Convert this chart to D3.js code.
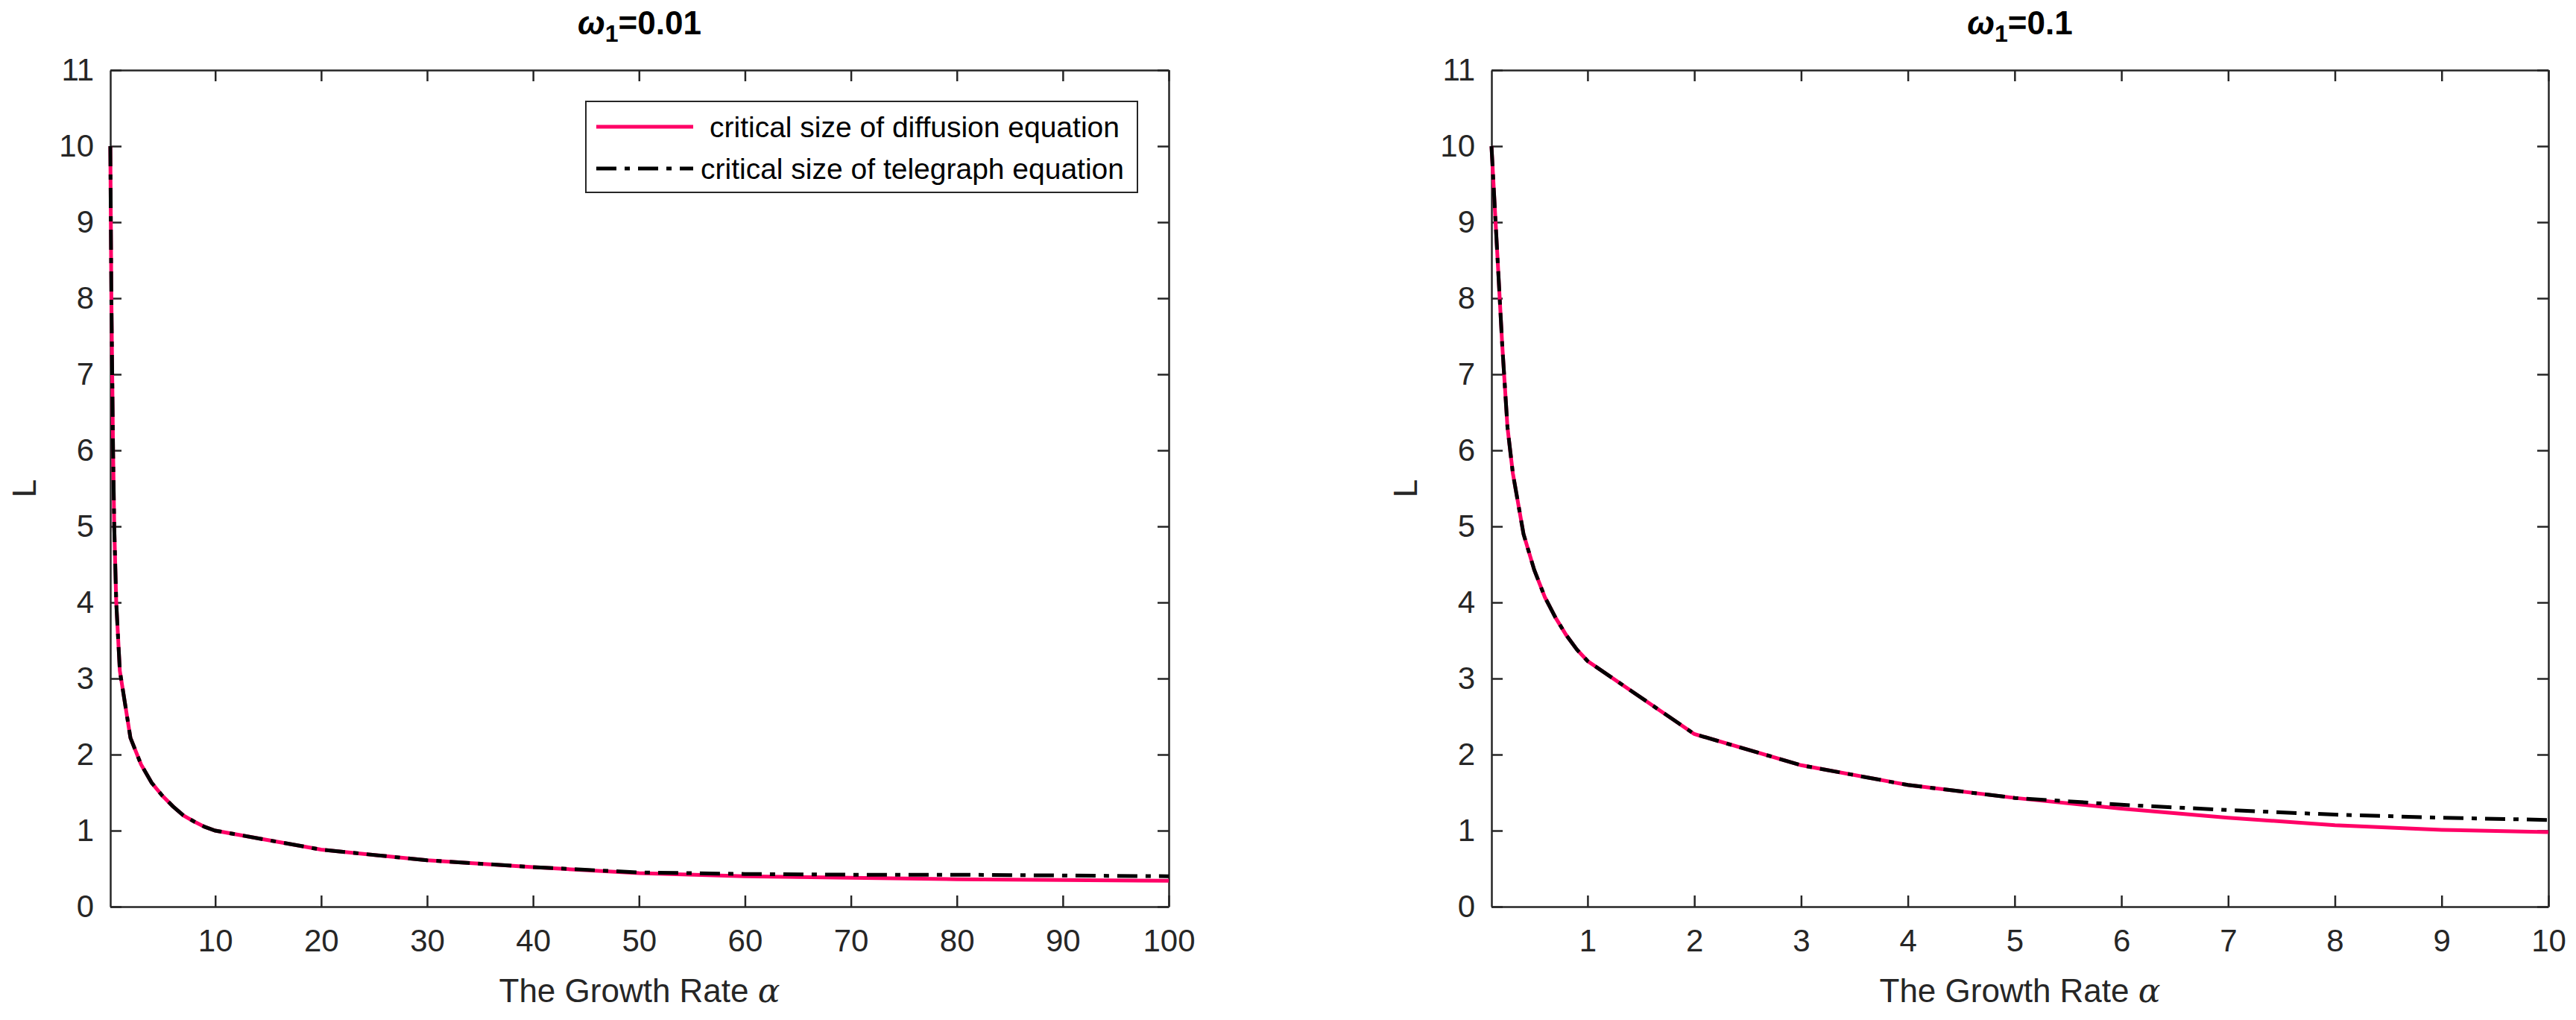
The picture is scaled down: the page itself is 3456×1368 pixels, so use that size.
<!DOCTYPE html>
<html>
<head>
<meta charset="utf-8">
<title>Critical size</title>
<style>
body { margin: 0; background: #fff; }
text { font-family: "Liberation Sans", Arial, sans-serif; fill: #262626; }
.axis path, .axis line { stroke: #262626; stroke-width: 2.5px; }
</style>
</head>
<body>
<script src="https://cdn.jsdelivr.net/npm/d3@7"></script>
<script>
// left panel, omega1 = 0.01
var alphaA = [0.1, 0.2, 0.36, 0.47, 0.66, 1, 2, 3, 4, 5, 6, 7, 8, 9, 10, 20, 30, 40, 50, 60, 70, 80, 90, 100];
var diffA  = [10, 8.0, 6.0, 5.0, 4.0, 3.1, 2.22, 1.87, 1.63, 1.46, 1.32, 1.2, 1.12, 1.05, 1.0, 0.75, 0.61, 0.52, 0.44, 0.4, 0.38, 0.36, 0.35, 0.34];
var telA   = [10, 8.0, 6.0, 5.0, 4.0, 3.1, 2.22, 1.87, 1.63, 1.46, 1.32, 1.2, 1.12, 1.05, 1.0, 0.75, 0.61, 0.52, 0.45, 0.43, 0.42, 0.42, 0.41, 0.40];
// right panel, omega1 = 0.1
var alphaB = [0.1, 0.15, 0.2, 0.25, 0.3, 0.4, 0.5, 0.6, 0.7, 0.8, 0.9, 1, 2, 3, 4, 5, 6, 7, 8, 9, 10];
var diffB  = [10, 8.7, 7.4, 6.3, 5.7, 4.9, 4.43, 4.07, 3.8, 3.57, 3.38, 3.23, 2.27, 1.86, 1.6, 1.43, 1.29, 1.17, 1.07, 1.01, 0.98];
var telB   = [10, 8.7, 7.4, 6.3, 5.7, 4.9, 4.43, 4.07, 3.8, 3.57, 3.38, 3.23, 2.27, 1.86, 1.6, 1.43, 1.34, 1.27, 1.21, 1.17, 1.14];
var ticksA = [10, 20, 30, 40, 50, 60, 70, 80, 90, 100];
var ticksB = [1, 2, 3, 4, 5, 6, 7, 8, 9, 10];
var ticksY = d3.range(0, 12);
var legendLabels = ["critical size of diffusion equation", "critical size of telegraph equation"];

var W = 3456, H = 1368, plotTop = 94, plotBottom = 1216;
var svg = d3.select("body").append("svg").attr("width", W).attr("height", H);

function panel(x0, x1, alphas, diff, tel, xticks, omega, legend) {
  var x = d3.scaleLinear().domain([alphas[0], alphas[alphas.length - 1]]).range([x0, x1]);
  var y = d3.scaleLinear().domain([0, 11]).range([plotBottom, plotTop]);
  var g = svg.append("g");

  g.append("g").attr("class", "axis").attr("transform", "translate(0," + plotBottom + ")")
    .call(d3.axisBottom(x).tickValues(xticks).tickSizeInner(-15).tickSizeOuter(0).tickPadding(30))
    .selectAll("text").style("font-size", "42px").attr("dy", "0.71em");
  g.append("g").attr("class", "axis").attr("transform", "translate(0," + plotTop + ")")
    .call(d3.axisTop(x).tickValues(xticks).tickSizeInner(-15).tickSizeOuter(0).tickFormat(""));
  g.append("g").attr("class", "axis").attr("transform", "translate(" + x0 + ",0)")
    .call(d3.axisLeft(y).tickValues(ticksY).tickSizeInner(-15).tickSizeOuter(0).tickPadding(22))
    .selectAll("text").style("font-size", "42px");
  g.append("g").attr("class", "axis").attr("transform", "translate(" + x1 + ",0)")
    .call(d3.axisRight(y).tickValues(ticksY).tickSizeInner(-15).tickSizeOuter(0).tickFormat(""));

  var line = d3.line().x(function(d) { return x(d[0]); }).y(function(d) { return y(d[1]); });
  g.append("path").datum(d3.zip(alphas, diff)).attr("d", line)
    .attr("fill", "none").attr("stroke", "#FF0066").attr("stroke-width", 5);
  g.append("path").datum(d3.zip(alphas, tel)).attr("d", line)
    .attr("fill", "none").attr("stroke", "#000").attr("stroke-width", 5)
    .attr("stroke-dasharray", "27,11,7,11");

  var cx = (x0 + x1) / 2;
  var t = g.append("text").attr("x", cx).attr("y", 46).attr("text-anchor", "middle")
    .style("font-size", "44px").style("font-weight", "bold").style("fill", "#000");
  t.append("tspan").text("ω").style("font-style", "italic");
  t.append("tspan").text("1").attr("dy", 10).style("font-size", "32px");
  t.append("tspan").text("=" + omega).attr("dy", -10);

  var xl = g.append("text").attr("x", cx).attr("y", 1344).attr("text-anchor", "middle").style("font-size", "44px");
  xl.append("tspan").text("The Growth Rate  ");
  xl.append("tspan").text("α").style("font-family", "DejaVu Serif").style("font-style", "italic");

  g.append("text").attr("transform", "translate(" + (x0 - 100) + "," + ((plotTop + plotBottom) / 2) + ") rotate(-90)")
    .attr("text-anchor", "middle").style("font-size", "44px").text("L");

  if (legend) {
    var lg = g.append("g");
    lg.append("rect").attr("x", 786).attr("y", 136).attr("width", 740).attr("height", 122)
      .attr("fill", "#fff").attr("stroke", "#262626").attr("stroke-width", 2);
    var styles = [{c: "#FF0066", d: null}, {c: "#000", d: "27,11,7,11"}];
    legendLabels.forEach(function(lab, i) {
      var yy = 170 + i * 56;
      lg.append("line").attr("x1", 800).attr("x2", 930).attr("y1", yy).attr("y2", yy)
        .attr("stroke", styles[i].c).attr("stroke-width", 5).attr("stroke-dasharray", styles[i].d);
      lg.append("text").attr("x", i == 0 ? 952 : 940).attr("y", yy + 14).style("font-size", "39px")
        .style("fill", "#000").text(lab);
    });
  }
}

panel(148, 1568, alphaA, diffA, telA, ticksA, "0.01", true);
panel(2001, 3419, alphaB, diffB, telB, ticksB, "0.1", false);
</script>
</body>
</html>
